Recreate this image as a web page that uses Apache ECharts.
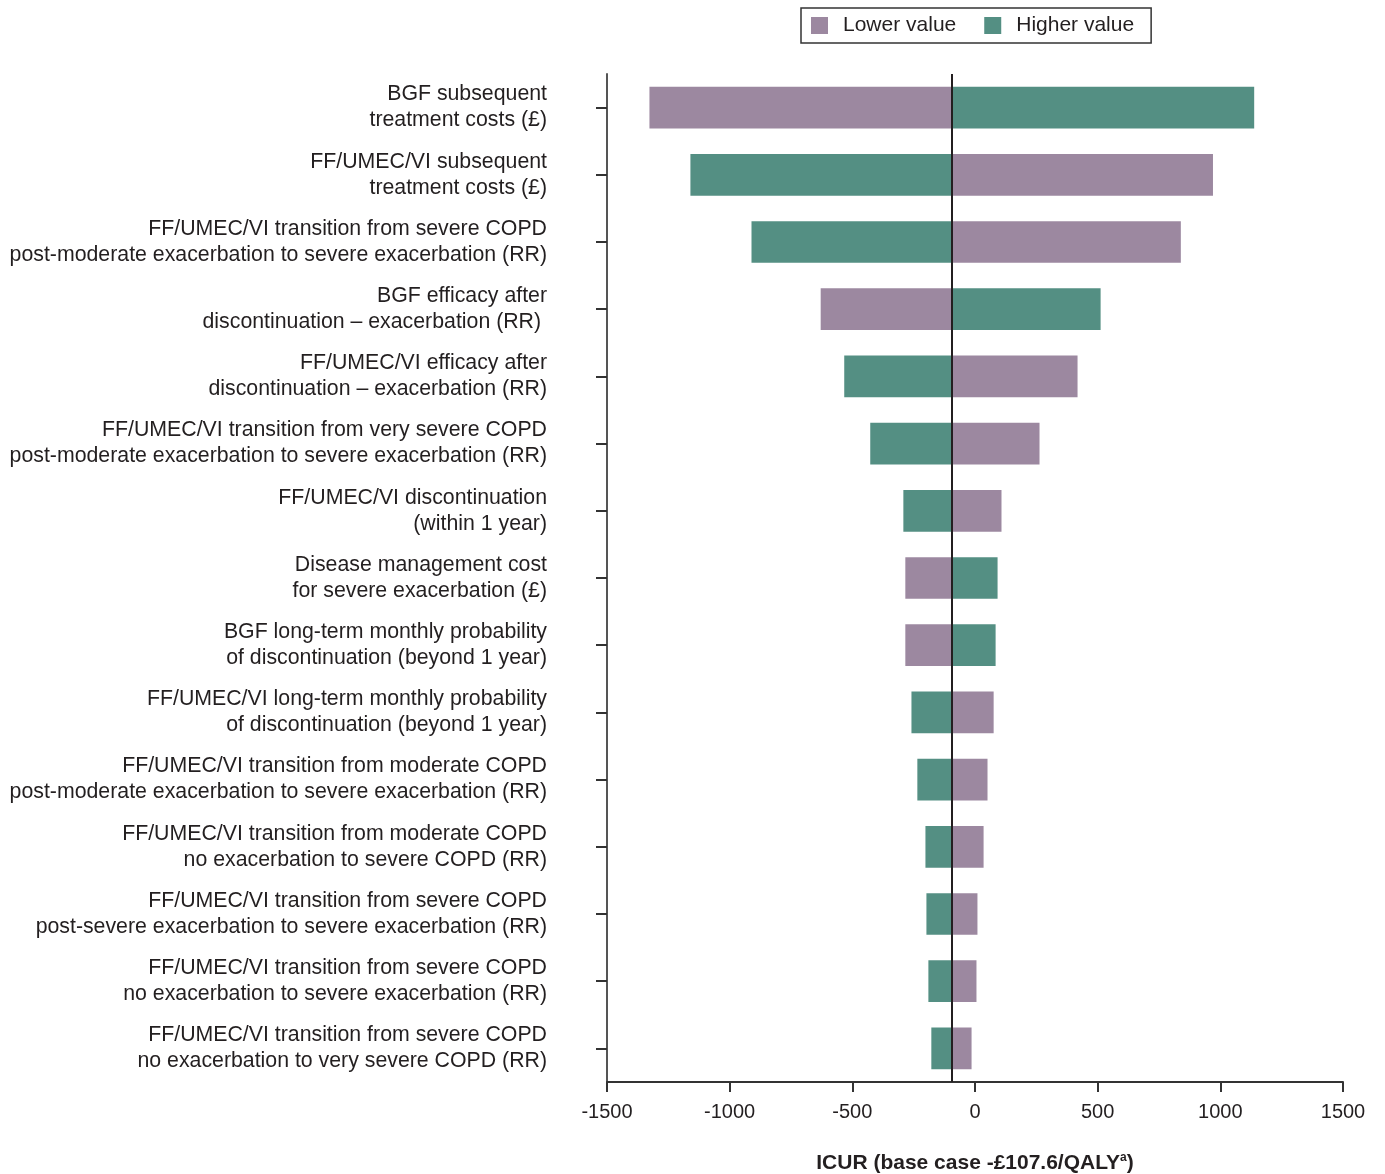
<!DOCTYPE html>
<html>
<head lang="en">
    <meta charset="UTF-8"/>
    <title>Tornado diagram</title>
    <script src="https://cdn.jsdelivr.net/npm/echarts@6/dist/echarts.min.js"></script>
    <style>
        body { margin: 0; background: #fff; }
    </style>
</head>
<body>
<div id="main" style="width: 1385px;height:1174px;"></div>
<script>
    // ICUR at the base case (where the bars meet)
    var baseCase = -95;

    var categories = [
        'BGF subsequent\ntreatment costs (£)',
        'FF/UMEC/VI subsequent\ntreatment costs (£)',
        'FF/UMEC/VI transition from severe COPD\npost-moderate exacerbation to severe exacerbation (RR)',
        'BGF efficacy after\ndiscontinuation – exacerbation (RR) ',
        'FF/UMEC/VI efficacy after\ndiscontinuation – exacerbation (RR)',
        'FF/UMEC/VI transition from very severe COPD\npost-moderate exacerbation to severe exacerbation (RR)',
        'FF/UMEC/VI discontinuation\n(within 1 year)',
        'Disease management cost\nfor severe exacerbation (£)',
        'BGF long-term monthly probability\nof discontinuation (beyond 1 year)',
        'FF/UMEC/VI long-term monthly probability\nof discontinuation (beyond 1 year)',
        'FF/UMEC/VI transition from moderate COPD\npost-moderate exacerbation to severe exacerbation (RR)',
        'FF/UMEC/VI transition from moderate COPD\nno exacerbation to severe COPD (RR)',
        'FF/UMEC/VI transition from severe COPD\npost-severe exacerbation to severe exacerbation (RR)',
        'FF/UMEC/VI transition from severe COPD\nno exacerbation to severe exacerbation (RR)',
        'FF/UMEC/VI transition from severe COPD\nno exacerbation to very severe COPD (RR)'
    ];

    // ICUR when the parameter is set to its lower / higher value
    var lowerValue = [-1327, 970, 839, -629, 418, 263, 108, -284, -284, 76, 51, 35, 10, 6, -14];
    var higherValue = [1138, -1160, -911, 512, -533, -427, -292, 92, 84, -259, -235, -202, -198, -190, -178];

    var xTicks = [-1500, 1500, 500];

    var textColor = '#231f20';
    var fontFamily = '"Liberation Sans", Arial, sans-serif';

    function toData(arr) {
        return arr.map(function (v, i) {
            return [i, v];
        });
    }

    function renderItem(params, api) {
        var idx = api.value(0);
        var v = api.value(1);
        var p0 = api.coord([baseCase, idx]);
        var p1 = api.coord([v, idx]);
        var h = api.size([0, 1])[1] * 0.62;
        return {
            type: 'rect',
            shape: {
                x: Math.min(p0[0], p1[0]),
                y: p0[1] - h / 2,
                width: Math.abs(p1[0] - p0[0]),
                height: h
            },
            style: {fill: api.visual('color')}
        };
    }

    var myChart = echarts.init(document.getElementById('main'));
    var option = {
        animation: false,
        textStyle: {fontFamily: fontFamily, color: textColor},
        color: ['#9c88a0', '#548f83'],
        legend: {
            left: 801,
            top: 8,
            orient: 'horizontal',
            borderColor: '#333',
            borderWidth: 1.5,
            padding: [7, 17, 7, 10],
            itemWidth: 17,
            itemHeight: 17,
            itemGap: 28,
            icon: 'rect',
            textStyle: {fontSize: 21, color: textColor, fontFamily: fontFamily, padding: [0, 0, 0, 10]},
            data: ['Lower value', 'Higher value']
        },
        grid: {
            left: 607,
            right: 42,
            top: 74,
            bottom: 92,
            outerBoundsMode: 'none'
        },
        xAxis: {
            type: 'value',
            min: xTicks[0],
            max: xTicks[1],
            interval: xTicks[2],
            splitLine: {show: false},
            axisLine: {show: true, lineStyle: {color: '#333', width: 2}},
            axisTick: {show: true, length: 10, lineStyle: {color: '#333', width: 2}},
            axisLabel: {
                fontSize: 20,
                color: textColor,
                margin: 20,
                fontFamily: fontFamily,
                formatter: function (v) {
                    return String(v);
                }
            },
            name: 'ICUR (base case -£107.6/QALY{sup|a})',
            nameLocation: 'middle',
            nameGap: 70,
            nameTextStyle: {
                fontSize: 21,
                fontWeight: 'bold',
                color: textColor,
                fontFamily: fontFamily,
                rich: {
                    sup: {fontSize: 12, fontWeight: 'bold', padding: [0, 0, 10, 0], fontFamily: fontFamily}
                }
            }
        },
        yAxis: {
            type: 'category',
            data: categories,
            inverse: true,
            axisLine: {show: true, onZero: false, lineStyle: {color: '#555', width: 2}},
            axisTick: {show: true, alignWithLabel: true, length: 11, lineStyle: {color: '#333', width: 2}},
            axisLabel: {
                fontSize: 21.3,
                lineHeight: 26,
                color: textColor,
                margin: 60,
                align: 'right',
                fontFamily: fontFamily
            }
        },
        series: [{
            name: 'Lower value',
            type: 'custom',
            renderItem: renderItem,
            encode: {x: 1, y: 0},
            data: toData(lowerValue),
            markLine: {
                silent: true,
                symbol: 'none',
                label: {show: false},
                lineStyle: {color: textColor, width: 2, type: 'solid'},
                data: [{xAxis: baseCase}]
            },
            z: 2
        }, {
            name: 'Higher value',
            type: 'custom',
            renderItem: renderItem,
            encode: {x: 1, y: 0},
            data: toData(higherValue),
            z: 2
        }]
    };
    myChart.setOption(option);
</script>
</body>
</html>
